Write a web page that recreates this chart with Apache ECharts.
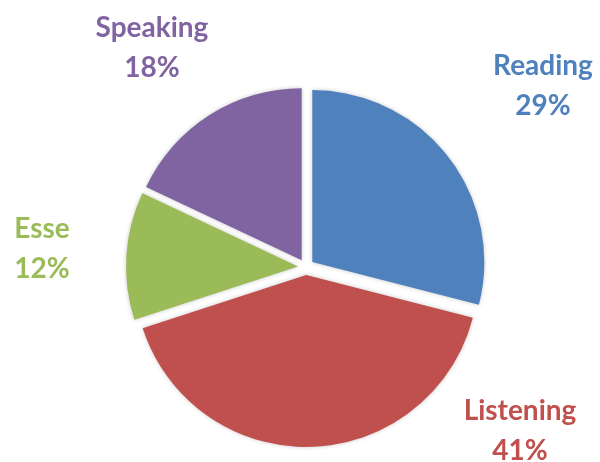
<!DOCTYPE html>
<html>
<head>
<meta charset="utf-8">
<script src="https://cdn.jsdelivr.net/npm/echarts@6/dist/echarts.min.js"></script>
<style>
  html, body { margin: 0; padding: 0; background: #ffffff; }
  #chart { width: 600px; height: 462px; }
</style>
</head>
<body>
<div id="chart"></div>
<script>
// Share of each skill section
const categories = ['Reading', 'Listening', 'Esse', 'Speaking'];
const shares = [29, 41, 12, 18];
const sliceColors = ['#4F81BD', '#C0504D', '#9BBB59', '#8064A2'];

// Pie geometry
const pieCenter = [306, 267];
const pieRadius = 172;

// Where each label block sits, relative to the pie centre
const labelOffsets = [
  [237, -181],
  [214, 164],
  [-264, -18],
  [-154, -219]
];

const chart = echarts.init(document.getElementById('chart'), null, { renderer: 'canvas' });

// Exploded slices: every sector is pushed out from the centre
const sliceData = categories.map((name, i) => ({
  name: name,
  value: shares[i],
  selected: true,
  itemStyle: { color: sliceColors[i] }
}));

// Same values again, carrying only the name / percentage labels
const labelData = categories.map((name, i) => ({
  name: name,
  value: shares[i],
  label: { color: sliceColors[i] }
}));

chart.setOption({
  backgroundColor: '#ffffff',
  animation: false,
  tooltip: { show: false },
  series: [
    {
      type: 'pie',
      center: pieCenter,
      radius: pieRadius,
      startAngle: 90,
      clockwise: true,
      selectedMode: 'multiple',
      selectedOffset: 8,
      silent: true,
      itemStyle: {
        borderWidth: 0,
        shadowBlur: 4,
        shadowColor: 'rgba(0,0,0,0.22)'
      },
      select: { itemStyle: { borderWidth: 0 } },
      emphasis: { disabled: true },
      label: { show: false },
      labelLine: { show: false },
      data: sliceData
    },
    {
      type: 'pie',
      center: pieCenter,
      radius: pieRadius,
      startAngle: 90,
      clockwise: true,
      silent: true,
      z: 3,
      itemStyle: { color: 'rgba(0,0,0,0)', borderWidth: 0 },
      emphasis: { disabled: true },
      label: {
        show: true,
        formatter: p => p.name + '\n' + p.value + '%',
        fontFamily: 'Lato',
        fontWeight: 'bold',
        fontSize: 28,
        lineHeight: 40
      },
      labelLine: { show: false },
      labelLayout: function (params) {
        const off = labelOffsets[params.dataIndex];
        return {
          x: pieCenter[0] + off[0],
          y: pieCenter[1] + off[1],
          align: 'center',
          verticalAlign: 'middle'
        };
      },
      data: labelData
    }
  ]
});
</script>
</body>
</html>
